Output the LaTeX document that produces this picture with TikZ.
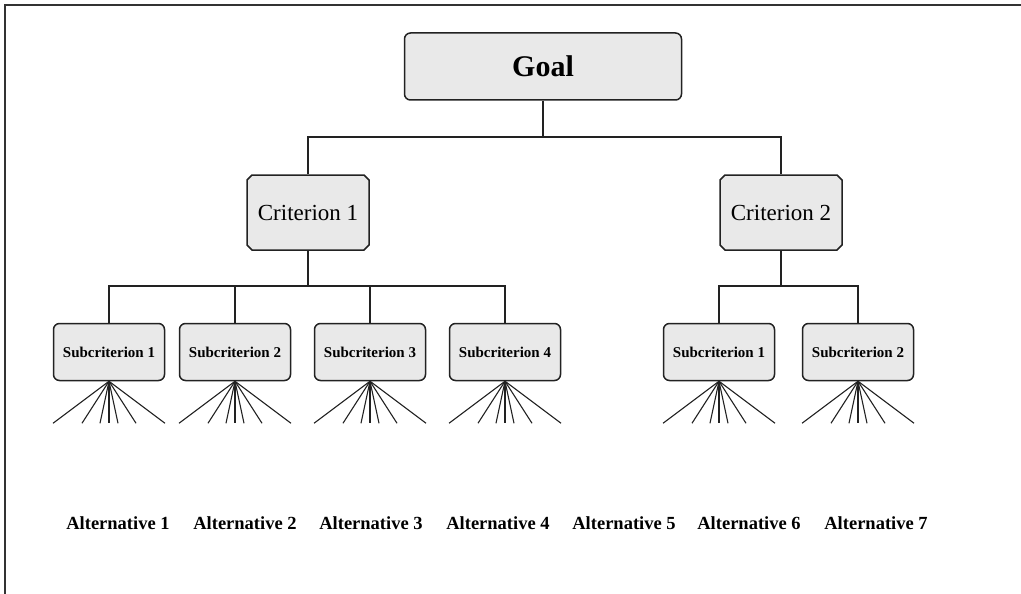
\documentclass[tikz,border=0pt]{standalone}
\usepackage{fontspec}
\setmainfont{Liberation Serif}
\usetikzlibrary{shapes.misc}
\definecolor{boxfill}{HTML}{E9E9E9}
\definecolor{edge}{HTML}{222222}
\definecolor{frame}{HTML}{333333}
\begin{document}
\begin{tikzpicture}[x=1pt,y=-1pt,
  goalbox/.style={draw=edge, fill=boxfill, line width=1.5pt, rounded corners=6pt, minimum width=277pt, minimum height=67pt, inner sep=0pt, font=\fontsize{30}{32}\selectfont\bfseries},
  critbox/.style={draw=edge, fill=boxfill, line width=1.5pt, chamfered rectangle, chamfered rectangle xsep=2.5pt, chamfered rectangle ysep=2.5pt, minimum width=122pt, minimum height=75pt, inner sep=0pt, font=\fontsize{23}{25}\selectfont},
  subbox/.style={draw=edge, fill=boxfill, line width=1.5pt, rounded corners=6pt, minimum width=111pt, minimum height=57pt, inner sep=0pt, font=\fontsize{15}{17}\selectfont\bfseries},
  alt/.style={font=\fontsize{18.5}{20}\selectfont\bfseries, inner sep=0pt},
  conn/.style={draw=edge, line width=1.5pt},
  fan/.style={draw=edge, line width=1.1pt}
]
\useasboundingbox (0,0) rectangle (1021,594);
\draw[draw=frame, line width=2pt] (5,594) -- (5,5) -- (1021,5);

\node[goalbox] (goal) at (543,66.5) {Goal};
\node[critbox] (c1) at (308,212.5) {Criterion 1};
\node[critbox] (c2) at (781,212.5) {Criterion 2};

\node[subbox] (s1) at (109,352) {Subcriterion 1};
\node[subbox] (s2) at (235,352) {Subcriterion 2};
\node[subbox] (s3) at (370,352) {Subcriterion 3};
\node[subbox] (s4) at (505,352) {Subcriterion 4};
\node[subbox] (s5) at (719,352) {Subcriterion 1};
\node[subbox] (s6) at (858,352) {Subcriterion 2};

\coordinate (j0) at (543,137);
\coordinate (j1) at (308,286);
\coordinate (j2) at (781,286);

\draw[conn] (goal.south) -- (j0);
\draw[conn] (c1.north) |- (j0) -| (c2.north);
\draw[conn] (c1.south) -- (j1);
\draw[conn] (s1.north) |- (j1) -| (s4.north);
\draw[conn] (s2.north) -- (s2.north |- j1);
\draw[conn] (s3.north) -- (s3.north |- j1);
\draw[conn] (c2.south) -- (j2);
\draw[conn] (s5.north) |- (j2) -| (s6.north);

\foreach \s in {s1,s2,s3,s4,s5,s6}
  \foreach \d in {-56,-27,-9,0,9,27,56}
    \draw[fan] (\s.south) -- ++(\d,42);

\node[alt] (a1) at (118,523) {Alternative 1};
\node[alt] (a2) at (245,523) {Alternative 2};
\node[alt] (a3) at (371,523) {Alternative 3};
\node[alt] (a4) at (498,523) {Alternative 4};
\node[alt] (a5) at (624,523) {Alternative 5};
\node[alt] (a6) at (749,523) {Alternative 6};
\node[alt] (a7) at (876,523) {Alternative 7};
\end{tikzpicture}
\end{document}
